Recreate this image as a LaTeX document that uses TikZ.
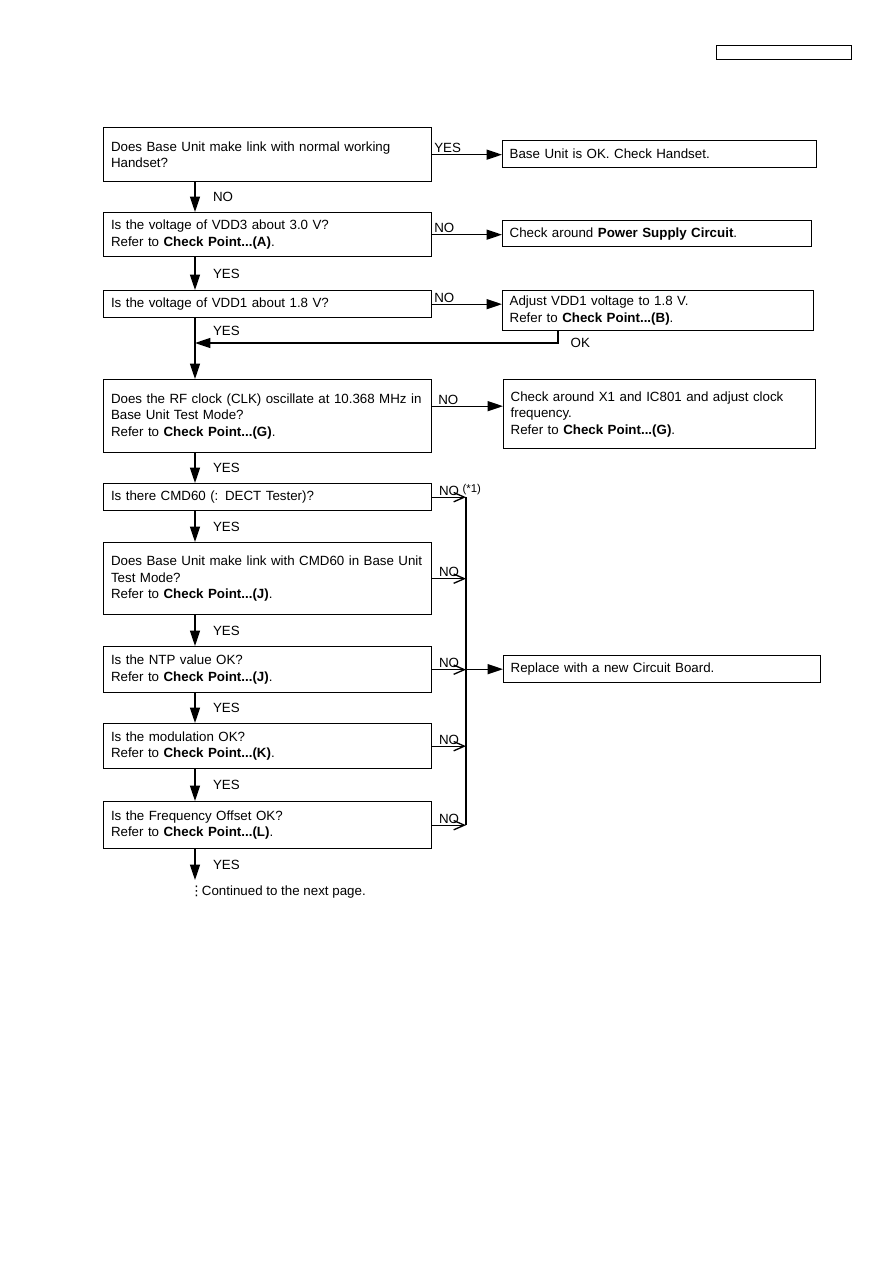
\documentclass[tikz,border=0pt]{standalone}
\usepackage{fontspec}
\setmainfont{Liberation Sans}
\newfontfamily\dotsfont{DejaVu Sans}
\usepackage{tikz}
\usetikzlibrary{positioning,arrows.meta,calc}
\tikzset{
  base/.style={draw,line width=1pt,anchor=north west,align=left,inner ysep=0pt,font=\fontsize{10}{12.4}\selectfont},
  qbox/.style={base,inner xsep=5.5pt,text width=235pt,minimum height=#1},
  abox/.style 2 args={base,inner xsep=5.25pt,text width=#1,minimum height=#2},
  arr/.style={-{Triangle[length=11.5pt,width=7.5pt]},line width=1pt},
  barb/.style={-{Straight Barb[length=8pt,width=7pt]},line width=1pt},
  bus/.style={line width=1pt},
  lbl/.style={font=\fontsize{10}{12}\selectfont,inner sep=1pt},
  blbl/.style={lbl,above right,pos=0,xshift=3.5pt}}

\begin{document}
\begin{tikzpicture}[x=0.75pt,y=-0.75pt]
\useasboundingbox (0,0) rectangle (893,1263);
\node[draw,line width=1pt,anchor=north west,minimum width=101.25pt,minimum height=10.5pt,inner sep=0pt] (page) at (716,45) {};
\coordinate (col) at (195,0);
\coordinate (bus) at (466,0);
\coordinate (join) at (195,343);
\coordinate (tail) at (195,880);

\node[qbox=40.5pt] (link) at (103,127) {Does Base Unit make link with normal working\\Handset?};
\node[qbox=33pt] (vdd3) at (103,212) {Is the voltage of VDD3 about 3.0 V?\\Refer to \textbf{Check Point...(A)}.};
\node[qbox=20.25pt] (vdd1) at (103,290) {Is the voltage of VDD1 about 1.8 V?};
\node[qbox=54.75pt] (clk) at (103,379) {Does the RF clock (CLK) oscillate at 10.368 MHz in\\Base Unit Test Mode?\\Refer to \textbf{Check Point...(G)}.};
\node[qbox=20.25pt] (cmd) at (103,483) {Is there CMD60 (: DECT Tester)?};
\node[qbox=54pt] (cmdlink) at (103,542) {Does Base Unit make link with CMD60 in Base Unit\\Test Mode?\\Refer to \textbf{Check Point...(J)}.};
\node[qbox=34.5pt] (ntp) at (103,646) {Is the NTP value OK?\\Refer to \textbf{Check Point...(J)}.};
\node[qbox=33.75pt] (mod) at (103,723) {Is the modulation OK?\\Refer to \textbf{Check Point...(K)}.};
\node[qbox=35.25pt] (offs) at (103,801) {Is the Frequency Offset OK?\\Refer to \textbf{Check Point...(L)}.};

\node[abox={225pt}{20.25pt}] (hsok) at (502,140) {Base Unit is OK. Check Handset.};
\node[abox={221.25pt}{19.5pt}] (psc) at (502,220) {Check around \textbf{Power Supply Circuit}.};
\node[abox={222.75pt}{30pt}] (adj) at (502,290) {Adjust VDD1 voltage to 1.8 V.\\Refer to \textbf{Check Point...(B)}.};
\node[abox={223.5pt}{51.75pt}] (xtal) at (503,379) {Check around X1 and IC801 and adjust clock\\frequency.\\Refer to \textbf{Check Point...(G)}.};
\node[abox={227.25pt}{20.25pt}] (repl) at (503,655) {Replace with a new Circuit Board.};

\node[lbl,anchor=west,inner sep=0pt] (cont) at (191,892) {\makebox[8pt]{\dotsfont ⋮}Continued to the next page.};

\draw[arr] (link.east) -- node[lbl,above right,pos=0]{YES} (link.east -| hsok.west);
\draw[arr] (vdd3.east) -- node[lbl,above right,pos=0]{NO} (vdd3.east -| psc.west);
\draw[arr] (vdd1.east) -- node[lbl,above right,pos=0]{NO} (vdd1.east -| adj.west);
\draw[arr] ([yshift=7.5pt]clk.east) -- node[lbl,above right,pos=0,xshift=3pt]{NO} ([yshift=7.5pt]clk.east -| xtal.west);

\draw[arr] (link.south -| col) -- node[lbl,right=12pt]{NO} (vdd3.north -| col);
\draw[arr] (vdd3.south -| col) -- node[lbl,right=12pt]{YES} (vdd1.north -| col);
\draw[arr] (vdd1.south -| col) -- node[lbl,right=12pt,pos=0.21]{YES} (clk.north -| col);
\draw[arr] ([xshift=42pt]adj.south west) |- node[lbl,right=8pt,pos=0.5]{OK} (join);
\draw[arr] (clk.south -| col) -- node[lbl,right=12pt]{YES} (cmd.north -| col);
\draw[arr] (cmd.south -| col) -- node[lbl,right=12pt]{YES} (cmdlink.north -| col);
\draw[arr] (cmdlink.south -| col) -- node[lbl,right=12pt]{YES} (ntp.north -| col);
\draw[arr] (ntp.south -| col) -- node[lbl,right=12pt]{YES} (mod.north -| col);
\draw[arr] (mod.south -| col) -- node[lbl,right=12pt]{YES} (offs.north -| col);
\draw[arr] (offs.south -| col) -- node[lbl,right=12pt]{YES} (tail);

\draw[barb] (cmd.east) -- node[blbl]{NO {\fontsize{8.5}{10}\selectfont\raisebox{2pt}{(*1)}}} (cmd.east -| bus);
\draw[barb] (cmdlink.east) -- node[blbl]{NO} (cmdlink.east -| bus);
\draw[barb] (ntp.east) -- node[blbl]{NO} (ntp.east -| bus);
\draw[barb] (mod.east) -- node[blbl]{NO} (mod.east -| bus);
\draw[barb] (offs.east) -- node[blbl]{NO} (offs.east -| bus);
\draw[bus] (cmd.east -| bus) -- (offs.east -| bus);
\draw[arr] (repl.west -| bus) -- (repl.west);
\end{tikzpicture}
\end{document}
